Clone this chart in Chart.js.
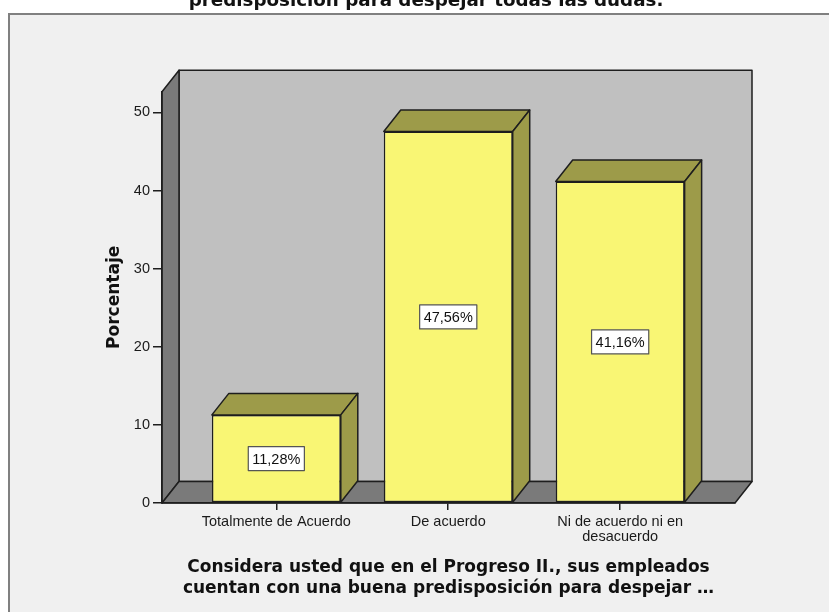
<!DOCTYPE html>
<html>
<head>
<meta charset="utf-8">
<script src="https://cdn.jsdelivr.net/npm/chart.js@4.4.1/dist/chart.umd.min.js"></script>
<style>
  html, body { margin: 0; padding: 0; background: #fff; }
  canvas { display: block; }
</style>
</head>
<body>
<canvas id="chart" width="829" height="612"></canvas>
<script>
// Answers and share of respondents (%)
const categories = ['Totalmente de Acuerdo', 'De acuerdo', ['Ni de acuerdo ni en', 'desacuerdo']];
const percentages = [11.28, 47.56, 41.16];
const yTicks = [0, 10, 20, 30, 40, 50];

const topTitle = 'predisposición para despejar todas las dudas.';
const xTitle = ['Considera usted que en el Progreso II., sus empleados', 'cuentan con una buena predisposición para despejar …'];
const yTitle = 'Porcentaje';

// depth of the 3D box, in pixels
const DX = 17, DY = -21.5;
const EDGE = '#1e1e1e';
const WALL = '#c0c0c0';
const SHADE = '#7a7a7a';
const BAR_FRONT = '#f9f674';
const BAR_SIDE = '#9d9b49';

function poly(ctx, pts, fill) {
    ctx.beginPath();
    ctx.moveTo(pts[0][0], pts[0][1]);
    for (let i = 1; i < pts.length; i++) ctx.lineTo(pts[i][0], pts[i][1]);
    ctx.closePath();
    ctx.fillStyle = fill;
    ctx.fill();
    ctx.strokeStyle = EDGE;
    ctx.lineWidth = 1.5;
    ctx.lineJoin = 'round';
    ctx.stroke();
}

function formatPct(v) {
    return v.toFixed(2).replace('.', ',') + '%';
}

// frame, clipped heading and the walls/floor of the box
const backdrop = {
    id: 'backdrop',
    beforeDraw(chart) {
        const ctx = chart.ctx;
        const { width, height } = chart;
        const { left, right, top, bottom } = chart.chartArea;
        ctx.save();
        ctx.fillStyle = '#fff';
        ctx.fillRect(0, 0, width, height);
        ctx.fillStyle = '#f0f0f0';
        ctx.fillRect(9, 14, width, height);
        ctx.strokeStyle = '#808080';
        ctx.lineWidth = 2;
        ctx.strokeRect(9, 14, width + 20, height + 20);

        ctx.fillStyle = '#111';
        ctx.font = 'bold 18.3px "DejaVu Sans"';
        ctx.textAlign = 'center';
        ctx.textBaseline = 'alphabetic';
        ctx.fillText(topTitle, 426, 6);

        poly(ctx, [[left + DX, top + DY], [right + DX, top + DY], [right + DX, bottom + DY], [left + DX, bottom + DY]], WALL);
        poly(ctx, [[left, bottom], [left, top], [left + DX, top + DY], [left + DX, bottom + DY]], SHADE);
        poly(ctx, [[left, bottom], [right, bottom], [right + DX, bottom + DY], [left + DX, bottom + DY]], SHADE);
        ctx.restore();
    }
};

// top and side faces of each bar, plus the value boxes
const barFaces = {
    id: 'barFaces',
    afterDatasetsDraw(chart) {
        const ctx = chart.ctx;
        const meta = chart.getDatasetMeta(0);
        ctx.save();
        meta.data.forEach((bar, i) => {
            const { x, y, base, width } = bar.getProps(['x', 'y', 'base', 'width'], true);
            const x1 = x - width / 2, x2 = x + width / 2;
            poly(ctx, [[x1, y], [x2, y], [x2 + DX, y + DY], [x1 + DX, y + DY]], BAR_SIDE);
            poly(ctx, [[x2, y], [x2 + DX, y + DY], [x2 + DX, base + DY], [x2, base]], BAR_SIDE);

            const text = formatPct(percentages[i]);
            ctx.font = '14.5px "Liberation Sans"';
            const tw = ctx.measureText(text).width;
            const bw = tw + 8, bh = 24;
            const cy = (y + base) / 2;
            ctx.fillStyle = '#fff';
            ctx.fillRect(x - bw / 2, cy - bh / 2, bw, bh);
            ctx.strokeStyle = '#555';
            ctx.lineWidth = 1.2;
            ctx.strokeRect(x - bw / 2, cy - bh / 2, bw, bh);
            ctx.fillStyle = '#111';
            ctx.textAlign = 'center';
            ctx.textBaseline = 'middle';
            ctx.fillText(text, x, cy + 1);
        });
        ctx.restore();
    }
};

const ctx = document.getElementById('chart');
new Chart(ctx, {
    type: 'bar',
    data: {
        datasets: [{
            data: percentages.map((v, i) => ({ x: i, y: v })),
            backgroundColor: BAR_FRONT,
            borderColor: EDGE,
            borderWidth: 1.5,
            borderSkipped: false,
            barPercentage: 0.75,
            categoryPercentage: 1
        }]
    },
    options: {
        responsive: false,
        devicePixelRatio: 1,
        animation: false,
        layout: { padding: { top: 91.7, right: 94, left: 0, bottom: 0 } },
        plugins: {
            legend: { display: false },
            tooltip: { enabled: false }
        },
        scales: {
            x: {
                type: 'linear',
                offset: false,
                min: -0.665,
                max: 2.668,
                afterBuildTicks: (scale) => {
                    scale.ticks = categories.map((c, i) => ({ value: i }));
                },
                afterFit: (scale) => { scale.height = 109; },
                ticks: {
                    autoSkip: false,
                    maxRotation: 0,
                    padding: 5,
                    color: '#1a1a1a',
                    font: { family: 'Liberation Sans', size: 14.5, lineHeight: 1 },
                    callback: (value) => categories[value]
                },
                grid: { offset: false, drawOnChartArea: false, tickLength: 7, color: EDGE, lineWidth: 1.5 },
                border: { display: true, color: EDGE, width: 1.5 },
                title: {
                    display: true,
                    text: xTitle,
                    color: '#111',
                    font: { family: 'DejaVu Sans', size: 17, weight: 'bold', lineHeight: 1.25 },
                    padding: { top: 0, bottom: 13 }
                }
            },
            y: {
                min: 0,
                max: 52.66,
                afterBuildTicks: (scale) => {
                    scale.ticks = yTicks.map(v => ({ value: v }));
                },
                afterFit: (scale) => { scale.width = 162; },
                ticks: {
                    padding: 3,
                    color: '#1a1a1a',
                    font: { family: 'Liberation Sans', size: 14.5 }
                },
                grid: { drawOnChartArea: false, tickLength: 9, color: EDGE, lineWidth: 1.5 },
                border: { display: true, color: EDGE, width: 1.5 },
                title: {
                    display: true,
                    text: yTitle,
                    color: '#111',
                    font: { family: 'DejaVu Sans', size: 17, weight: 'bold', lineHeight: 1.2 },
                    padding: { top: 104, bottom: 0 }
                }
            }
        }
    },
    plugins: [backdrop, barFaces]
});
</script>
</body>
</html>
